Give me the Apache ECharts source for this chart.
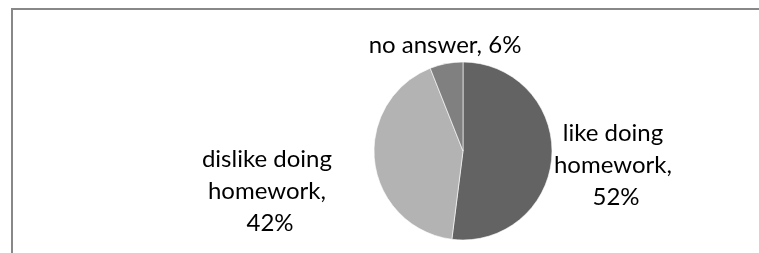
<!DOCTYPE html>
<html>
<head>
<meta charset="utf-8">
<script src="https://cdn.jsdelivr.net/npm/echarts@6/dist/echarts.min.js"></script>
<style>
  html, body { margin: 0; padding: 0; background: #fff; }
  #chart { width: 759px; height: 253px; }
</style>
</head>
<body>
<div id="chart"></div>
<script>
// 数据
var categories = ['like doing homework', 'dislike doing homework', 'no answer'];
var values = [52, 42, 6];
var colors = ['#636363', '#b3b3b3', '#808080'];

// 标签中心位置 (像素)
var labelCenters = [[616, 165], [270, 191], [445, 45]];
var labelWidths = [140, 150, null];

var myChart = echarts.init(document.getElementById('chart'));

var pieData = categories.map(function (name, i) {
  var item = {
    name: name,
    value: values[i],
    itemStyle: { color: colors[i] }
  };
  if (labelWidths[i]) {
    item.label = { width: labelWidths[i], overflow: 'break' };
  }
  return item;
});

myChart.setOption({
  animation: false,
  graphic: [
    {
      type: 'rect',
      shape: { x: 12, y: 9, width: 900, height: 400 },
      style: { fill: 'none', stroke: '#888888', lineWidth: 2 },
      silent: true
    }
  ],
  series: [
    {
      type: 'pie',
      center: [463, 151],
      radius: 89,
      startAngle: 90,
      clockwise: true,
      data: pieData,
      itemStyle: {
        borderColor: '#ffffff',
        borderWidth: 0.6
      },
      label: {
        show: true,
        formatter: function (p) { return p.name + ', ' + p.value + '%'; },
        fontFamily: 'Lato',
        fontSize: 24,
        lineHeight: 32,
        color: '#000',
        align: 'center'
      },
      labelLine: { show: false },
      labelLayout: function (params) {
        var c = labelCenters[params.dataIndex];
        return {
          x: c[0],
          y: c[1],
          align: 'center',
          verticalAlign: 'middle'
        };
      }
    }
  ]
});
</script>
</body>
</html>
